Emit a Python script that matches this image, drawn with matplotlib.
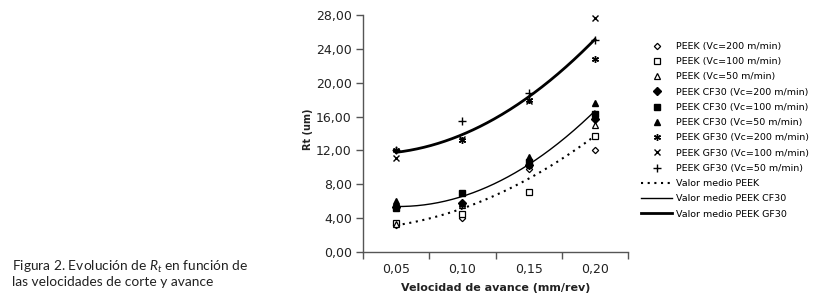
import numpy as np
import matplotlib
matplotlib.use("Agg")
import matplotlib.pyplot as plt
from matplotlib.ticker import FixedLocator, FuncFormatter, NullFormatter

# ---- data ----
feeds = ["0,05", "0,10", "0,15", "0,20"]
peek_200 = [3.2, 4.0, 9.8, 12.0]
peek_100 = [3.4, 4.5, 7.1, 13.7]
peek_50 = [3.3, 5.6, 10.4, 15.0]
cf30_200 = [5.3, 5.8, 10.3, 15.7]
cf30_100 = [5.2, 7.0, 10.6, 16.3]
cf30_50 = [6.0, 5.8, 11.2, 17.6]
gf30_200 = [12.1, 13.2, 18.0, 22.8]
gf30_100 = [11.1, 13.3, 17.8, 27.6]
gf30_50 = [12.0, 15.5, 18.8, 25.1]
y_ticks = [0, 4, 8, 12, 16, 20, 24, 28]

plt.rcParams['font.family'] = ['DejaVu Sans']
plt.rcParams['mathtext.fontset'] = 'custom'
plt.rcParams['mathtext.it'] = 'Lato:italic'
plt.rcParams['mathtext.rm'] = 'Lato'

fig = plt.figure(figsize=(8.36, 3.01), dpi=100)
ax = fig.add_axes([363/836, 1-252/301, 265/836, 237/301])

x = np.arange(len(feeds))
ms = 4.2
series = [
    ("PEEK (Vc=200 m/min)", peek_200, dict(marker='D', mfc='white', mec='black', ms=3.2, mew=0.9)),
    ("PEEK (Vc=100 m/min)", peek_100, dict(marker='s', mfc='white', mec='black', ms=ms, mew=0.9)),
    ("PEEK (Vc=50 m/min)", peek_50, dict(marker='^', mfc='white', mec='black', ms=ms, mew=0.9)),
    ("PEEK CF30 (Vc=200 m/min)", cf30_200, dict(marker='D', mfc='black', mec='black', ms=3.6)),
    ("PEEK CF30 (Vc=100 m/min)", cf30_100, dict(marker='s', mfc='black', mec='black', ms=ms)),
    ("PEEK CF30 (Vc=50 m/min)", cf30_50, dict(marker='^', mfc='black', mec='black', ms=ms+0.6)),
    ("PEEK GF30 (Vc=200 m/min)", gf30_200, dict(marker=(6, 2, 0), color='black', ms=5, mew=1.0)),
    ("PEEK GF30 (Vc=100 m/min)", gf30_100, dict(marker='x', color='black', ms=4.5, mew=1.0)),
    ("PEEK GF30 (Vc=50 m/min)", gf30_50, dict(marker='+', color='black', ms=6, mew=1.0)),
]
handles = []
for label, vals, kw in series:
    h, = ax.plot(x, vals, linestyle='none', label=label, zorder=3, **kw)
    handles.append(h)

# polynomial (order 2) trend lines of each material's values
xs = np.linspace(0, 3, 200)
groups = [
    ("Valor medio PEEK", [peek_200, peek_100, peek_50], dict(color='black', lw=1.5, ls=(0, (1, 2.2)))),
    ("Valor medio PEEK CF30", [cf30_200, cf30_100, cf30_50], dict(color='black', lw=1.0)),
    ("Valor medio PEEK GF30", [gf30_200, gf30_100, gf30_50], dict(color='black', lw=2.0)),
]
for label, arrs, kw in groups:
    allx = np.concatenate([x for _ in arrs])
    ally = np.concatenate([np.array(a) for a in arrs])
    c = np.polyfit(allx, ally, 2)
    h, = ax.plot(xs, np.polyval(c, xs), label=label, zorder=2, **kw)
    handles.append(h)

ax.set_xlim(-0.5, 3.5)
ax.set_ylim(0, 28)
for s in ['top', 'right']:
    ax.spines[s].set_visible(False)
for s in ['left', 'bottom']:
    ax.spines[s].set_color('#555555')
    ax.spines[s].set_linewidth(1.0)

ax.set_yticks(y_ticks)
ax.yaxis.set_major_formatter(FuncFormatter(lambda v, p: f"{v:.2f}".replace('.', ',')))
ax.tick_params(axis='y', direction='out', length=5, width=1, color='#555555',
               labelsize=9, pad=3, labelcolor='#222222')

ax.xaxis.set_major_locator(FixedLocator([-0.5, 0.5, 1.5, 2.5, 3.5]))
ax.xaxis.set_major_formatter(NullFormatter())
ax.xaxis.set_minor_locator(FixedLocator(list(x)))
ax.set_xticks(x, feeds, minor=True)
ax.tick_params(axis='x', which='major', direction='out', length=5, width=1, color='#555555')
ax.tick_params(axis='x', which='minor', length=0, labelsize=9, pad=8, labelcolor='#222222')

ax.set_xlabel("Velocidad de avance (mm/rev)", fontsize=8, fontweight='bold', labelpad=5, color='#222222')
ax.set_ylabel("Rt (um)", fontsize=7, fontweight='bold', color='#222222')
ax.yaxis.set_label_coords(-0.19, 0.52)

fig.legend(handles=handles, loc='upper left', bbox_to_anchor=(641/836, 1-42/301),
           frameon=False, fontsize=6.8, handlelength=3.3, handletextpad=0.45,
           labelspacing=0.66, borderpad=0, borderaxespad=0)

fig.text(12/836, 1-271/301, r"Figura 2. Evolución de $R_t$ en función de",
         family='Lato', fontsize=9.9, color='#222222', va='baseline', ha='left')
fig.text(12/836, 1-286/301, "las velocidades de corte y avance",
         family='Lato', fontsize=9.9, color='#222222', va='baseline', ha='left')

fig.savefig("out.png", dpi=100)
